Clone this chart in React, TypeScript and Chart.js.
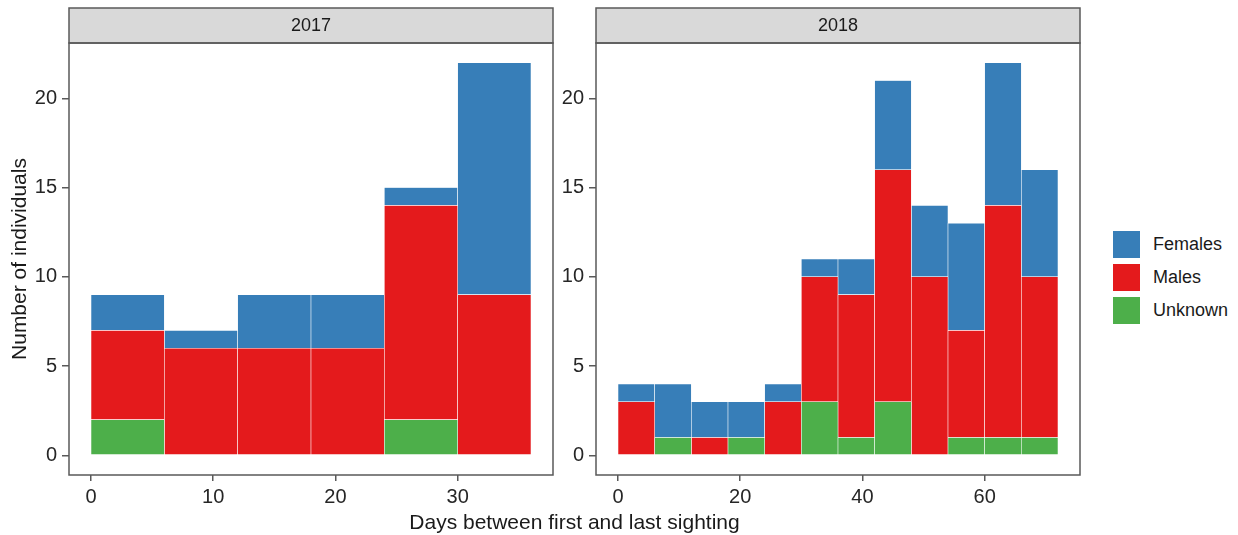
import React, { useEffect, useRef } from "react";
import { Chart, registerables } from "chart.js";

Chart.register(...registerables);

// ---- data ----
const binWidth = 6;
const legendLabels = ["Females", "Males", "Unknown"];

const years = ["2017", "2018"];

const binStart2017 = [0, 6, 12, 18, 24, 30];
const females2017 = [2, 1, 3, 3, 1, 13];
const males2017 = [5, 6, 6, 6, 12, 9];
const unknown2017 = [2, 0, 0, 0, 2, 0];

const binStart2018 = [0, 6, 12, 18, 24, 30, 36, 42, 48, 54, 60, 66];
const females2018 = [1, 3, 2, 2, 1, 1, 2, 5, 4, 6, 8, 6];
const males2018 = [3, 0, 1, 0, 3, 7, 8, 13, 10, 6, 13, 9];
const unknown2018 = [0, 1, 0, 1, 0, 3, 1, 3, 0, 1, 1, 1];

const xTickStep2017 = 10;
const xTickStep2018 = 20;
const yTickStep = 5;

const xTitle = "Days between first and last sighting";
const yTitle = "Number of individuals";

// ---- style ----
const FONT = '"Liberation Sans", Arial, Helvetica, sans-serif';
const LINE = "#595959";
const TEXT = "#1a1a1a";
const TICK_TEXT = "#262626";
const COLORS: Record<string, string> = {
  Females: "#377EB8",
  Males: "#E41A1C",
  Unknown: "#4DAF4A",
};

const W = 1238;
const H = 535;
const PLOT_TOP = 43;
const PLOT_BOTTOM = 475;
const STRIP_TOP = 8;

type PanelProps = {
  label: string;
  starts: number[];
  females: number[];
  males: number[];
  unknown: number[];
  step: number;
  left: number;
  width: number;
  axisWidth: number;
  padRight: number;
  showYTitle: boolean;
};

function Panel(p: PanelProps) {
  const ref = useRef<HTMLCanvasElement | null>(null);
  useEffect(() => {
    if (!ref.current) return;
    const maxX = Math.max(...p.starts) + binWidth;
    const expandX = maxX * 0.05;
    const totals = p.starts.map((_, i) => p.females[i] + p.males[i] + p.unknown[i]);
    const maxY = Math.max(...totals);
    const expandY = maxY * 0.05;
    const mk = (name: string, vals: number[]) => ({
      label: name,
      data: p.starts.map((s, i) => ({ x: s + binWidth / 2, y: vals[i] === 0 ? null : vals[i] })),
      backgroundColor: COLORS[name],
      borderColor: "#ffffff",
      borderWidth: 0.6,
      borderSkipped: false as const,
      barPercentage: 1,
      categoryPercentage: 1,
    });
    const stripPlugin = {
      id: "strip",
      afterDraw(chart: any) {
        const { ctx, chartArea } = chart;
        ctx.save();
        ctx.fillStyle = "#D9D9D9";
        ctx.fillRect(chartArea.left, STRIP_TOP, chartArea.right - chartArea.left, chartArea.top - STRIP_TOP);
        ctx.strokeStyle = LINE;
        ctx.lineWidth = 1.5;
        ctx.strokeRect(chartArea.left, STRIP_TOP, chartArea.right - chartArea.left, chartArea.top - STRIP_TOP);
        ctx.strokeRect(chartArea.left, chartArea.top, chartArea.right - chartArea.left, chartArea.bottom - chartArea.top);
        ctx.fillStyle = TEXT;
        ctx.font = `18px ${FONT}`;
        ctx.textAlign = "center";
        ctx.textBaseline = "middle";
        ctx.fillText(p.label, (chartArea.left + chartArea.right) / 2, (STRIP_TOP + chartArea.top) / 2 + 1);
        ctx.restore();
      },
    };
    const chart = new Chart(ref.current, {
      type: "bar",
      data: {
        datasets: [mk("Unknown", p.unknown), mk("Males", p.males), mk("Females", p.females)],
      },
      options: {
        responsive: false,
        animation: false,
        devicePixelRatio: 1,
        layout: { padding: { top: PLOT_TOP, left: 0, right: p.padRight, bottom: 0 } },
        plugins: { legend: { display: false }, tooltip: { enabled: false } },
        scales: {
          x: {
            type: "linear",
            stacked: true,
            offset: false,
            min: -expandX,
            max: maxX + expandX,
            afterFit: (s: any) => {
              s.height = H - PLOT_BOTTOM;
            },
            border: { display: false },
            grid: { offset: false, drawOnChartArea: false, drawTicks: true, tickLength: 6, color: LINE, lineWidth: 1.5 },
            ticks: {
              stepSize: p.step,
              includeBounds: false,
              padding: 4,
              color: TICK_TEXT,
              font: { family: FONT, size: 20 },
              maxRotation: 0,
            },
          },
          y: {
            type: "linear",
            stacked: true,
            min: -expandY,
            max: maxY + expandY,
            afterFit: (s: any) => {
              s.width = p.axisWidth;
            },
            border: { display: false },
            grid: { drawOnChartArea: false, drawTicks: true, tickLength: 7, color: LINE, lineWidth: 1.5 },
            ticks: {
              stepSize: yTickStep,
              includeBounds: false,
              padding: 5,
              color: TICK_TEXT,
              font: { family: FONT, size: 20 },
            },
            title: {
              display: p.showYTitle,
              text: yTitle,
              color: TEXT,
              font: { family: FONT, size: 21 },
              padding: { top: 8, bottom: 0 },
            },
          },
        },
      },
      plugins: [stripPlugin],
    } as any);
    return () => chart.destroy();
  }, []);
  return (
    <canvas
      ref={ref}
      width={p.width}
      height={H}
      style={{ position: "absolute", left: p.left, top: 0, width: p.width, height: H }}
    />
  );
}

export default function App() {
  return (
    <div style={{ position: "absolute", left: 0, top: 0, width: W, height: H, background: "#fff", overflow: "hidden" }}>
      <Panel
        label={years[0]}
        starts={binStart2017}
        females={females2017}
        males={males2017}
        unknown={unknown2017}
        step={xTickStep2017}
        left={0}
        width={560}
        axisWidth={69}
        padRight={7}
        showYTitle={true}
      />
      <Panel
        label={years[1]}
        starts={binStart2018}
        females={females2018}
        males={males2018}
        unknown={unknown2018}
        step={xTickStep2018}
        left={560}
        width={540}
        axisWidth={36}
        padRight={20}
        showYTitle={false}
      />
      <div
        style={{
          position: "absolute",
          left: 69,
          width: 1080 - 69,
          top: 509,
          textAlign: "center",
          fontFamily: FONT,
          fontSize: 21,
          lineHeight: "26px",
          color: TEXT,
        }}
      >
        {xTitle}
      </div>
      <div style={{ position: "absolute", left: 1112, top: 228, fontFamily: FONT, fontSize: 18, color: TEXT }}>
        {legendLabels.map((name) => (
          <div key={name} style={{ display: "flex", alignItems: "center", height: 33 }}>
            <div
              style={{
                width: 29,
                height: 29,
                boxSizing: "border-box",
                background: COLORS[name],
                border: "1px solid #ffffff",
              }}
            />
            <span style={{ marginLeft: 12 }}>{name}</span>
          </div>
        ))}
      </div>
    </div>
  );
}
